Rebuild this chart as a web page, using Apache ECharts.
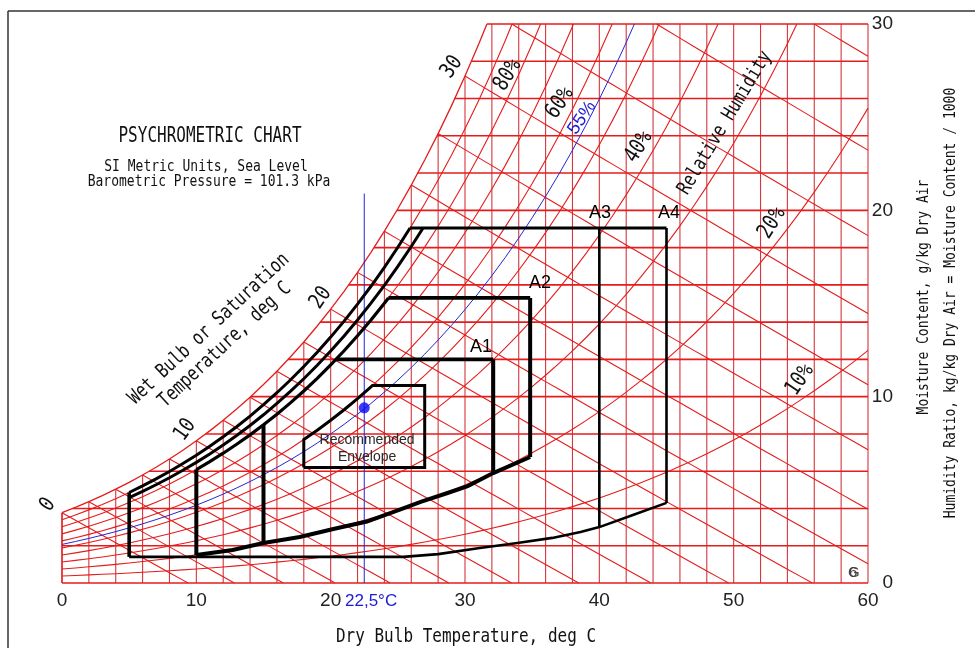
<!DOCTYPE html>
<html><head><meta charset="utf-8">
<script src="https://cdn.jsdelivr.net/npm/echarts@6/dist/echarts.min.js"></script>
<style>html,body{margin:0;padding:0;background:#fff}#c{width:975px;height:648px}</style>
</head><body><div id="c"></div>
<script>
// ================= DATA =================
const pressureKPa = 101.325;
// saturation vapour pressure over water (kPa) for 0..60 degC (steam tables)
const satTemps = [0,1,2,3,4,5,6,7,8,9,10,11,12,13,14,15,16,17,18,19,20,21,22,23,24,25,26,27,28,29,30,
  31,32,33,34,35,36,37,38,39,40,41,42,43,44,45,46,47,48,49,50,51,52,53,54,55,56,57,58,59,60];
const satPressure = [0.6112,0.6571,0.7060,0.7580,0.8135,0.8725,0.9353,1.0020,1.0729,1.1481,1.2280,
  1.3128,1.4026,1.4979,1.5987,1.7055,1.8185,1.9380,2.0643,2.1979,2.3389,2.4878,2.6448,2.8105,2.9852,
  3.1693,3.3633,3.5674,3.7823,4.0084,4.2462,4.4961,4.7586,5.0345,5.3242,5.6280,5.9468,6.2812,6.6315,
  6.9988,7.3838,7.7866,8.2081,8.6495,9.1110,9.5935,10.098,10.625,11.175,11.749,12.349,12.975,13.628,
  14.309,15.019,15.758,16.529,17.331,18.166,19.036,19.940];
const dryBulbGrid = [0,2,4,6,8,10,12,14,16,18,20,22,24,26,28,30,32,34,36,38,40,42,44,46,48,50,52,54,56,58,60];
const moistureGrid = [0,2,4,6,8,10,12,14,16,18,20,22,24,26,28,30];
const rhLevels = [10,20,30,40,50,60,70,80,90];
const wetBulbTemps = [0,2,4,6,8,10,12,14,16,18,20,22,24,26,28,30,32,34,36];
const xMax = 60, wMax = 30;

// highlighted design point
const markRH = 55;
const markTemp = 22.5;
const markPoint = [22.5, 9.4];
const markLineTop = 20.9;

// envelope classes
const classNames = ['A1','A2','A3','A4'];
const classTmin  = [15, 10, 5, 5];
const classTmax  = [32.1, 34.85, 40, 45];
const classTopW  = [12.0, 15.3, 19.05, 19.05];
const classRH    = [80, 80, 85, 90];
// lower limit of A1/A2
const lowerA12T = [10, 12.7, 15, 17.7, 20.2, 22.7, 25.2, 26.7, 28.7, 30.2, 32.1, 34.85];
const lowerA12W = [1.5, 1.77, 2.15, 2.47, 2.9, 3.3, 3.95, 4.35, 4.83, 5.2, 5.9, 6.76];
// lower limit of A3/A4
const lowerA34T = [5, 25.4, 28, 31.1, 33.9, 36.5, 38.6, 40, 42.5, 45];
const lowerA34W = [1.4, 1.4, 1.55, 1.88, 2.15, 2.42, 2.74, 3.0, 3.65, 4.3];
// recommended envelope
const recT = [18, 27];
const recW = [6.2, 10.6];
const recRH = 60;

// ================= HELPERS =================
const ps = t => satPressure[satTemps.indexOf(t)];
const wOf = pw => 622 * pw / (pressureKPa - pw);
const satCurve = satTemps.map(t => [t, wOf(ps(t))]);
const rhCurve = pct => satTemps.map(t => [t, wOf(pct / 100 * ps(t))]);
function wetBulbLine(twb) {
  const wsKg = wOf(ps(twb)) / 1000;
  const pts = [];
  satTemps.forEach(t => {
    if (t < twb) return;
    const w = ((2501 - 2.326 * twb) * wsKg - 1.006 * (t - twb)) / (2501 + 1.86 * t - 4.186 * twb);
    pts.push([t, w * 1000]);
  });
  return pts;
}
function clipW(pts, lo, hi) {
  const out = [];
  for (let i = 0; i < pts.length - 1; i++) {
    const [x0, y0] = pts[i], [x1, y1] = pts[i + 1];
    let a = 0, b = 1;
    const dy = y1 - y0;
    if (dy === 0) { if (y0 < lo || y0 > hi) continue; }
    else {
      let s = (lo - y0) / dy, e = (hi - y0) / dy;
      if (s > e) { const tmp = s; s = e; e = tmp; }
      a = Math.max(a, s); b = Math.min(b, e);
      if (a > b) continue;
    }
    const p0 = [x0 + (x1 - x0) * a, y0 + dy * a], p1 = [x0 + (x1 - x0) * b, y0 + dy * b];
    const last = out[out.length - 1];
    if (!last || Math.abs(last[0] - p0[0]) > 1e-9 || Math.abs(last[1] - p0[1]) > 1e-9) out.push(p0);
    out.push(p1);
  }
  return out;
}
function tAtW(pts, w) {
  for (let i = 0; i < pts.length - 1; i++) {
    const [x0, y0] = pts[i], [x1, y1] = pts[i + 1];
    if ((y0 - w) * (y1 - w) <= 0 && y1 !== y0) return x0 + (x1 - x0) * (w - y0) / (y1 - y0);
  }
  return null;
}
const lowerAt = (ts, ws, t) => ws[ts.indexOf(t)];
const curveFrom = (pts, t0, wTop) => clipW(pts.filter(p => p[0] >= t0), 0, wTop);

// ================= GRID LINES =================
const RED = '#e41c1c';
const gridLines = [];
dryBulbGrid.forEach(t => {
  const top = Math.min(wMax, satCurve[satTemps.indexOf(t)][1]);
  gridLines.push({coords: [[t, 0], [t, top]], lineStyle: {color: '#d4363c', width: 1.1, opacity: 1}});
});
moistureGrid.forEach(w => {
  const start = w <= satCurve[0][1] ? 0 : tAtW(satCurve, w);
  gridLines.push({coords: [[start, w], [xMax, w]], lineStyle: {color: RED, width: 1.6, opacity: 1}});
});
rhLevels.forEach(p => {
  gridLines.push({coords: clipW(rhCurve(p), 0, wMax), lineStyle: {color: RED, width: 1.1, opacity: 1}});
});
wetBulbTemps.forEach(tw => {
  const c = clipW(wetBulbLine(tw), 0, wMax);
  if (c.length) gridLines.push({coords: c, lineStyle: {color: RED, width: 1.1, opacity: 1}});
});
gridLines.push({coords: clipW(satCurve, 0, wMax), lineStyle: {color: RED, width: 1.3, opacity: 1}});
gridLines.push({coords: [[0, 0], [0, satCurve[0][1]]], lineStyle: {color: RED, width: 1.3, opacity: 1}});

// ================= BLUE =================
const blueLines = [
  {coords: clipW(rhCurve(markRH), 0, wMax), lineStyle: {color: '#2626d6', width: 1, opacity: 1}},
  {coords: [[markTemp, 0], [markTemp, markLineTop]], lineStyle: {color: '#2626d6', width: 1, opacity: 1}}
];

// ================= ENVELOPES =================
const K = '#000';
const env = [];
const L = (coords, width) => env.push({coords, lineStyle: {color: K, width, opacity: 1}});
const rh90 = rhCurve(classRH[3]), rh85 = rhCurve(classRH[2]), rh80 = rhCurve(classRH[0]);
L(curveFrom(rh90, classTmin[3], classTopW[3]), 3);
L(curveFrom(rh85, classTmin[2], classTopW[2]), 3);
L([[tAtW(rh90, classTopW[3]), classTopW[3]], [classTmax[3], classTopW[3]]], 3);
L([[classTmax[2], lowerAt(lowerA34T, lowerA34W, classTmax[2])], [classTmax[2], classTopW[2]]], 2.6);
L([[classTmax[3], lowerAt(lowerA34T, lowerA34W, classTmax[3])], [classTmax[3], classTopW[3]]], 2.6);
L([[classTmin[3], lowerAt(lowerA34T, lowerA34W, classTmin[3])], [classTmin[3], rh90[satTemps.indexOf(classTmin[3])][1]]], 3.6);
L(lowerA34T.map((t, i) => [t, lowerA34W[i]]), 2.6);
L(curveFrom(rh80, classTmin[1], classTopW[1]), 3.2);
L([[tAtW(rh80, classTopW[1]), classTopW[1]], [classTmax[1], classTopW[1]]], 3.6);
L([[tAtW(rh80, classTopW[0]), classTopW[0]], [classTmax[0], classTopW[0]]], 3.6);
L([[classTmin[1], lowerAt(lowerA12T, lowerA12W, classTmin[1])], [classTmin[1], rh80[satTemps.indexOf(classTmin[1])][1]]], 4);
L([[classTmin[0], lowerAt(lowerA12T, lowerA12W, classTmin[0])], [classTmin[0], rh80[satTemps.indexOf(classTmin[0])][1]]], 4);
L([[classTmax[0], lowerAt(lowerA12T, lowerA12W, classTmax[0])], [classTmax[0], classTopW[0]]], 4);
L([[classTmax[1], lowerAt(lowerA12T, lowerA12W, classTmax[1])], [classTmax[1], classTopW[1]]], 4);
L(lowerA12T.map((t, i) => [t, lowerA12W[i]]), 4);
const rh60 = rhCurve(recRH);
const recPath = [[recT[0], recW[0]]]
  .concat(curveFrom(rh60, recT[0], recW[1]))
  .concat([[recT[1], recW[1]], [recT[1], recW[0]], [recT[0], recW[0]]]);
L(recPath, 3);

// ================= CHART =================
const MONO = '"DejaVu Sans Mono",monospace';
const ARIAL = '"Liberation Sans",Arial,sans-serif';
const chart = echarts.init(document.getElementById('c'), null, {renderer: 'canvas'});
const option = {
  animation: false,
  backgroundColor: '#fff',
  grid: {left: 62, top: 24, right: 107, bottom: 65},
  xAxis: {type: 'value', min: 0, max: xMax, interval: 10,
    axisLine: {show: false}, axisTick: {show: false}, splitLine: {show: false},
    axisLabel: {fontFamily: ARIAL, fontSize: 19, color: '#222', margin: 8}},
  yAxis: {type: 'value', position: 'right', min: 0, max: wMax, interval: 10,
    axisLine: {show: false}, axisTick: {show: false}, splitLine: {show: false},
    axisLabel: {fontFamily: ARIAL, fontSize: 19, color: '#222', margin: 25, align: 'right'}},
  series: [
    {type: 'lines', coordinateSystem: 'cartesian2d', polyline: true, silent: true, clip: false, z: 1, data: gridLines},
    {type: 'lines', coordinateSystem: 'cartesian2d', polyline: true, silent: true, clip: false, z: 2, data: blueLines},
    {type: 'lines', coordinateSystem: 'cartesian2d', polyline: true, silent: true, clip: false, z: 3, data: env},
    {type: 'scatter', z: 4, symbolSize: 11, itemStyle: {color: '#0a0af5'}, data: [markPoint]}
  ]
};
chart.setOption(option);

function txt(text, x, y, o) {
  o = o || {};
  const al = o.align || 'center';
  return {type: 'text', x, y, rotation: (o.rot || 0) * Math.PI / 180, scaleX: o.sx || 1, scaleY: o.sy || 1,
    silent: true, z: 100,
    style: {text, fill: o.color || '#111', font: (o.weight || 'normal') + ' ' + (o.size || 14) + 'px ' + (o.family || MONO),
      align: al, textAlign: al, verticalAlign: 'middle', textVerticalAlign: 'middle'}};
}
const px = (t, w) => chart.convertToPixel({gridIndex: 0}, [t, w]);
function dt(text, t, w, o) { const p = px(t, w); return txt(text, p[0], p[1], o); }

const graphics = [
  {type: 'line', shape: {x1: 8, y1: 11, x2: 975, y2: 11}, style: {stroke: '#333', lineWidth: 1.5}, silent: true},
  {type: 'line', shape: {x1: 8, y1: 11, x2: 8, y2: 648}, style: {stroke: '#333', lineWidth: 1.5}, silent: true},
  txt('PSYCHROMETRIC CHART', 210, 136, {size: 16, sy: 1.35}),
  txt('SI Metric Units, Sea Level', 206, 167, {size: 13, sy: 1.2}),
  txt('Barometric Pressure = 101.3 kPa', 209, 182, {size: 13, sy: 1.2}),
  txt('Dry Bulb Temperature, deg C', 466, 637, {size: 16, sy: 1.2}),
  txt('Moisture Content, g/kg Dry Air', 924, 297, {size: 13, sy: 1.2, rot: 90}),
  txt('Humidity Ratio, kg/kg Dry Air = Moisture Content / 1000', 951, 303, {size: 13, sy: 1.2, rot: 90}),
  txt('22,5°C', 345, 601, {size: 17, family: ARIAL, color: '#1a1ad8', align: 'left'}),
  dt('0', -1.04, 4.19, {size: 18, rot: 55, sy: 1.2}),
  dt('10', 9.16, 8.21, {size: 18, rot: 55, sy: 1.2}),
  dt('20', 19.28, 15.30, {size: 18, rot: 55, sy: 1.2}),
  dt('30', 29.03, 27.69, {size: 18, rot: 55, sy: 1.2}),
  dt('Wet Bulb or Saturation', 10.94, 13.63, {size: 16, rot: 43, sy: 1.25}),
  dt('Temperature, deg C', 12.13, 12.77, {size: 16, rot: 43, sy: 1.25}),
  dt('80%', 33.2, 27.26, {size: 18, rot: 58, sy: 1.25}),
  dt('60%', 37.07, 25.76, {size: 18, rot: 56, sy: 1.25}),
  dt('55%', 38.71, 24.96, {size: 18, rot: 56, family: ARIAL, color: '#1a1ad8'}),
  dt('40%', 42.95, 23.40, {size: 18, rot: 58, sy: 1.25}),
  dt('Relative Humidity', 49.36, 24.69, {size: 16, rot: 59, sy: 1.25}),
  dt('20%', 52.86, 19.32, {size: 18, rot: 58, sy: 1.25}),
  dt('10%', 54.94, 10.89, {size: 18, rot: 56, sy: 1.25}),
  dt('A1', 31.19, 12.67, {size: 18, family: ARIAL, color: '#000'}),
  dt('A2', 35.58, 16.10, {size: 18, family: ARIAL, color: '#000'}),
  dt('A3', 40.05, 19.86, {size: 18, family: ARIAL, color: '#000'}),
  dt('A4', 45.19, 19.86, {size: 18, family: ARIAL, color: '#000'}),
  dt('Recommended', 22.71, 7.67, {size: 14, family: ARIAL, color: '#2a2a2a'}),
  dt('Envelope', 22.71, 6.76, {size: 14, family: ARIAL, color: '#2a2a2a'}),
  dt('6', 58.9, 0.55, {size: 15, family: ARIAL, color: '#444'}),
  dt('G', 58.95, 0.55, {size: 15, family: ARIAL, color: '#444'})
];
chart.setOption({graphic: {elements: graphics}});
</script>
</body></html>
